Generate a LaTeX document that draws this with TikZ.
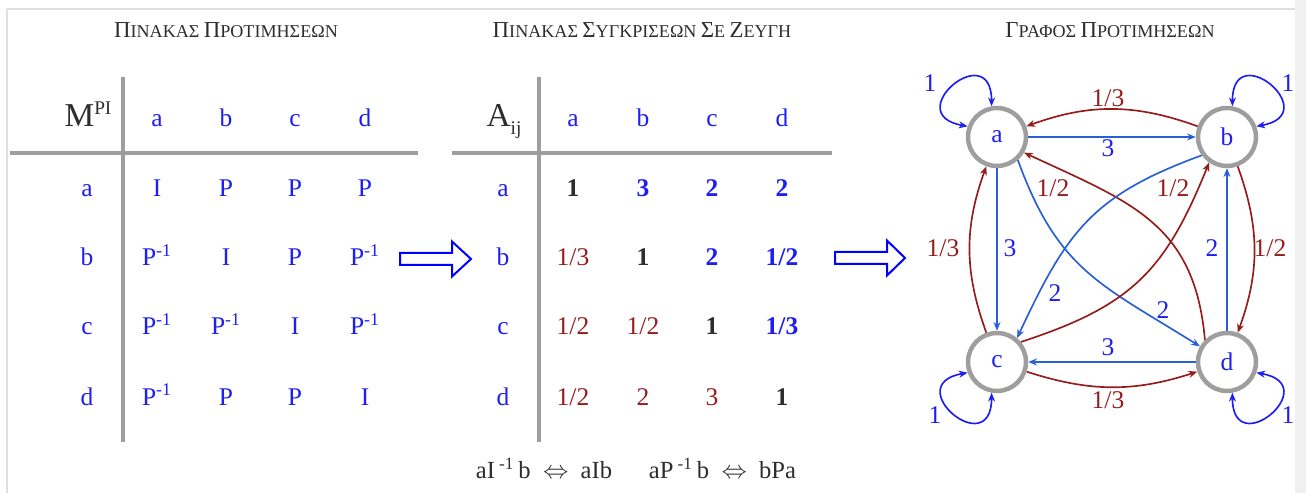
\documentclass[tikz,border=0pt]{standalone}
\usepackage{fontspec}
\setmainfont{Liberation Serif}
\usetikzlibrary{arrows.meta}
\definecolor{tblue}{RGB}{30,30,240}
\definecolor{eblue}{RGB}{40,95,215}
\definecolor{dred}{RGB}{150,28,28}
\definecolor{lgray}{RGB}{158,158,158}
\definecolor{dgray}{RGB}{45,45,45}
\newcommand\fsc[2]{{\fontsize{13}{15}\selectfont #1}{\fontsize{10.3}{12}\selectfont #2}}
\newcommand\pinv{P\textsuperscript{-1}}
\tikzset{
  ttl/.style={anchor=base, text=dgray},
  hd/.style={anchor=base, text=tblue, font=\fontsize{14.5}{16}\selectfont},
  big/.style={anchor=base, text=dgray, font=\fontsize{19}{20}\selectfont},
  onev/.style={anchor=base, text=dgray, font=\fontsize{14.5}{16}\selectfont\bfseries},
  posv/.style={anchor=base, text=tblue, font=\fontsize{14.5}{16}\selectfont\bfseries},
  negv/.style={anchor=base, text=dred, font=\fontsize{14.5}{16}\selectfont},
  grid/.style={draw=lgray, line width=0.07cm},
  vx/.style={circle, draw=lgray, line width=0.09cm, minimum size=1.16cm, inner sep=0pt, text=tblue, font=\fontsize{14.5}{16}\selectfont},
  be/.style={draw=eblue, line width=0.95pt, -{Stealth[length=5pt,width=4pt]}},
  re/.style={draw=dred, line width=0.95pt, -{Stealth[length=5pt,width=4pt]}},
  lp/.style={draw=tblue, line width=0.95pt, {Stealth[length=5pt,width=4pt]}-{Stealth[length=5pt,width=4pt]}, min distance=1.4cm},
  bl/.style={text=tblue, font=\fontsize{14.5}{16}\selectfont},
  rl/.style={text=dred, font=\fontsize{14.5}{16}\selectfont},
  barrow/.style={draw=blue, line width=0.04cm, fill=white, line join=miter},
}
\begin{document}
\begin{tikzpicture}[x=0.02cm, y=-0.02cm]
\useasboundingbox (0,0) rectangle (1306,493);
% frame
\fill[gray!12](1295,0) rectangle (1306,493);
\draw[gray!25, line width=0.03cm](7,9)--(1295,9);
\draw[gray!25, line width=0.03cm](7,9)--(7,493);

% titles
\node[ttl](t1) at (226,38){\fsc{Π}{ΙΝΑΚΑΣ} \fsc{Π}{ΡΟΤΙΜΗΣΕΩΝ}};
\node[ttl](t2) at (642,38){\fsc{Π}{ΙΝΑΚΑΣ} \fsc{Σ}{ΥΓΚΡΙΣΕΩΝ} \fsc{Σ}{Ε} \fsc{Ζ}{ΕΥΓΗ}};
\node[ttl](t3) at (1110,38){\fsc{Γ}{ΡΑΦΟΣ} \fsc{Π}{ΡΟΤΙΜΗΣΕΩΝ}};

% first table
\draw[grid](123,77)--(123,442);
\draw[grid](10,153)--(418,153);
\node[big](mh) at (88,127){M\raisebox{7pt}{\fontsize{11}{12}\selectfont PI}};
\node[hd](ma) at (157,127){a};
\node[hd](mb) at (226,127){b};
\node[hd](mc) at (295,127){c};
\node[hd](md) at (365,127){d};
\node[hd](mra) at (87,197){a};
\node[hd](mrb) at (87,266){b};
\node[hd](mrc) at (87,335){c};
\node[hd](mrd) at (87,405){d};

\node[hd](m11) at (157,197){I};
\node[hd](m12) at (226,197){P};
\node[hd](m13) at (295,197){P};
\node[hd](m14) at (365,197){P};
\node[hd](m21) at (157,266){\pinv};
\node[hd](m22) at (226,266){I};
\node[hd](m23) at (295,266){P};
\node[hd](m24) at (365,266){\pinv};
\node[hd](m31) at (157,335){\pinv};
\node[hd](m32) at (226,335){\pinv};
\node[hd](m33) at (295,335){I};
\node[hd](m34) at (365,335){\pinv};
\node[hd](m41) at (157,405){\pinv};
\node[hd](m42) at (226,405){P};
\node[hd](m43) at (295,405){P};
\node[hd](m44) at (365,405){I};

\coordinate (ar1) at (400,259);
\draw[barrow](ar1) ++(0,-6) -- ++(52,0) -- ++(0,-11.5) -- ++(19,17.5) -- ++(-19,17.5) -- ++(0,-11.5) -- ++(-52,0) -- cycle;

% second table
\draw[grid](539,77)--(539,442);
\draw[grid](452,153)--(832,153);
\node[big](ph) at (504,127){A\raisebox{-4pt}{\fontsize{11}{12}\selectfont ij}};
\node[hd](pa) at (573,127){a};
\node[hd](pb) at (643,127){b};
\node[hd](pc) at (712,127){c};
\node[hd](pd) at (782,127){d};
\node[hd](pra) at (503,197){a};
\node[hd](prb) at (503,266){b};
\node[hd](prc) at (503,335){c};
\node[hd](prd) at (503,405){d};

\node[onev](p11) at (573,197){1};
\node[posv](p12) at (643,197){3};
\node[posv](p13) at (712,197){2};
\node[posv](p14) at (782,197){2};
\node[negv](p21) at (573,266){1/3};
\node[onev](p22) at (643,266){1};
\node[posv](p23) at (712,266){2};
\node[posv](p24) at (782,266){1/2};
\node[negv](p31) at (573,335){1/2};
\node[negv](p32) at (643,335){1/2};
\node[onev](p33) at (712,335){1};
\node[posv](p34) at (782,335){1/3};
\node[negv](p41) at (573,405){1/2};
\node[negv](p42) at (643,405){2};
\node[negv](p43) at (712,405){3};
\node[onev](p44) at (782,405){1};

\node[ttl, font=\fontsize{14}{16}\selectfont](ft) at (636,479){aI\,\textsuperscript{-1}\,b \ $\Leftrightarrow$\ \ aIb\quad\ \ aP\,\textsuperscript{-1}\,b \ $\Leftrightarrow$\ \ bPa};

\coordinate (ar2) at (835,258);
\draw[barrow](ar2) ++(0,-6) -- ++(52,0) -- ++(0,-11.5) -- ++(18,17.5) -- ++(-18,17.5) -- ++(0,-11.5) -- ++(-52,0) -- cycle;

% graph
\node[vx](a) at (997,137){a};
\node[vx](b) at (1227,137){b};
\node[vx](c) at (997,362){c};
\node[vx](d) at (1227,362){d};

\draw[be](a)--(b);
\draw[re](b) to[bend right=20] (a);
\draw[be](a)--(c);
\draw[re](c) to[bend left=20] (a);
\draw[be](d)--(b);
\draw[re](b) to[bend left=20] (d);
\draw[be](d)--(c);
\draw[re](c) to[bend right=18] (d);
\draw[be](a.-48) to[out=-70,in=148,looseness=1.15] (d.150);
\draw[re](d.135) to[out=95,in=-25,looseness=1.15] (a.-30);
\draw[be](b.-144) to[out=200,in=65,looseness=1.15] (c.50);
\draw[re](c.40) to[out=18,in=-112,looseness=1.15] (b.-125);

\draw[lp](a.100) to[out=90,in=170] (a.160);
\draw[lp](b.80) to[out=90,in=10] (b.20);
\draw[lp](c.-100) to[out=-90,in=-170] (c.-160);
\draw[lp](d.-80) to[out=-90,in=-10] (d.-20);

\node[bl](l1) at (1108,148){3};
\node[rl](l2) at (1108,98){1/3};
\node[bl](l3) at (1010,248){3};
\node[rl](l4) at (943,248){1/3};
\node[bl](l5) at (1212,248){2};
\node[rl](l6) at (1270,248){1/2};
\node[bl](l7) at (1108,347){3};
\node[rl](l8) at (1108,400){1/3};
\node[bl](l9) at (1163,310){2};
\node[rl](l10) at (1053,188){1/2};
\node[bl](l11) at (1055,293){2};
\node[rl](l12) at (1173,188){1/2};
\node[bl](la) at (930,83){1};
\node[bl](lb) at (1288,83){1};
\node[bl](lc) at (935,415){1};
\node[bl](ld) at (1288,415){1};
\end{tikzpicture}
\end{document}
